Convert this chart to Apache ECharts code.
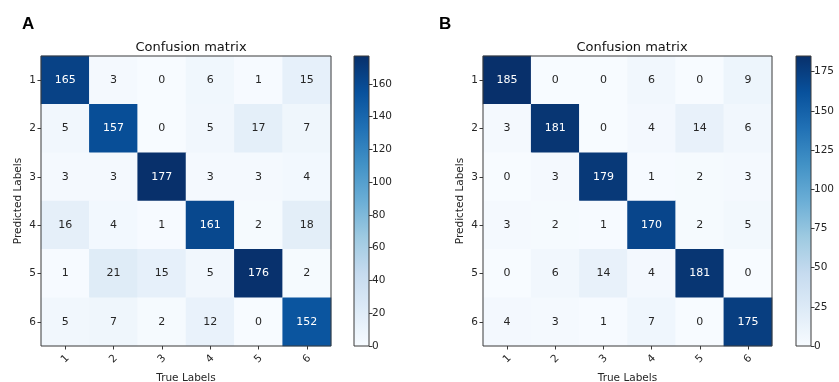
<!DOCTYPE html>
<html>
<head>
<meta charset="utf-8">
<script src="https://cdn.jsdelivr.net/npm/echarts@6/dist/echarts.min.js"></script>
<style>
html,body{margin:0;padding:0;background:#fff;}
#c{width:839px;height:382px;}
</style>
</head>
<body>
<div id="c"></div>
<script>
// ---- data ----
const categories = ['1', '2', '3', '4', '5', '6'];
// rows = Predicted Labels, columns = True Labels
const matrixA = [
  [165, 3, 0, 6, 1, 15],
  [5, 157, 0, 5, 17, 7],
  [3, 3, 177, 3, 3, 4],
  [16, 4, 1, 161, 2, 18],
  [1, 21, 15, 5, 176, 2],
  [5, 7, 2, 12, 0, 152]
];
const matrixB = [
  [185, 0, 0, 6, 0, 9],
  [3, 181, 0, 4, 14, 6],
  [0, 3, 179, 1, 2, 3],
  [3, 2, 1, 170, 2, 5],
  [0, 6, 14, 4, 181, 0],
  [4, 3, 1, 7, 0, 175]
];
const colorbarTicksA = [0, 20, 40, 60, 80, 100, 120, 140, 160];
const colorbarTicksB = [0, 25, 50, 75, 100, 125, 150, 175];
const panelLetters = ['A', 'B'];
const titleText = 'Confusion matrix';
const xName = 'True Labels';
const yName = 'Predicted Labels';

// ---- styling ----
const BLUES = ['#f7fbff', '#deebf7', '#c6dbef', '#9ecae1', '#6baed6', '#4292c6', '#2171b5', '#08519c', '#08306b'];
const FONT = 'DejaVu Sans';
const AXC = '#3a3a3a';
const TXT = '#262626';

function maxOf(m) { return Math.max.apply(null, m.map(r => Math.max.apply(null, r))); }
const maxA = maxOf(matrixA), maxB = maxOf(matrixB);

function cells(m, mx) {
  const out = [];
  m.forEach((row, i) => row.forEach((v, j) => {
    out.push({ value: [j, i, v], label: { color: v > mx / 2 ? '#ffffff' : TXT } });
  }));
  return out;
}

const gridsPos = [
  { left: 41, top: 56, width: 290, height: 290 },   // heatmap A
  { left: 354, top: 56, width: 15, height: 290 },   // colorbar A
  { left: 483, top: 56, width: 289, height: 290 },  // heatmap B
  { left: 796, top: 56, width: 15, height: 290 }    // colorbar B
];

const xAxes = [], yAxes = [], series = [];
function heatAxes(g) {
  xAxes.push({
    type: 'category', data: categories, gridIndex: g, position: 'bottom', z: 5,
    name: xName, nameLocation: 'middle', nameGap: 25,
    nameTextStyle: { fontFamily: FONT, fontSize: 10.5, color: TXT },
    axisLine: { show: false },
    axisTick: { show: true, alignWithLabel: true, length: 3.5, lineStyle: { color: AXC } },
    axisLabel: { rotate: 45, align: 'center', verticalAlign: 'middle', fontFamily: FONT, fontSize: 10.5, color: TXT, margin: 13 },
    splitLine: { show: false }, splitArea: { show: false }
  });
  yAxes.push({
    type: 'category', data: categories, gridIndex: g, position: 'left', inverse: true, z: 5,
    name: yName, nameLocation: 'middle', nameGap: 17, nameRotate: 90,
    nameTextStyle: { fontFamily: FONT, fontSize: 10.5, color: TXT },
    axisLine: { show: false },
    axisTick: { show: true, alignWithLabel: true, length: 3.5, lineStyle: { color: AXC } },
    axisLabel: { fontFamily: FONT, fontSize: 10.5, color: TXT, margin: 5 },
    splitLine: { show: false }, splitArea: { show: false }
  });
}
function cbAxes(g, mx, ticks) {
  xAxes.push({
    type: 'category', data: ['cb'], gridIndex: g, show: false
  });
  yAxes.push({
    type: 'value', gridIndex: g, position: 'right', min: 0, max: mx, z: 5,
    axisLine: { show: false },
    axisTick: { show: true, length: 3.5, lineStyle: { color: AXC }, customValues: ticks },
    axisLabel: { fontFamily: FONT, fontSize: 10.5, color: TXT, margin: 3, customValues: ticks },
    splitLine: { show: false }
  });
}

heatAxes(0);
cbAxes(1, maxA, colorbarTicksA);
heatAxes(2);
cbAxes(3, maxB, colorbarTicksB);

function gradient() {
  const stops = BLUES.map((c, i) => ({ offset: 1 - i / (BLUES.length - 1), color: c }));
  stops.sort((a, b) => a.offset - b.offset);
  return new echarts.graphic.LinearGradient(0, 0, 0, 1, stops);
}

series.push({
  type: 'heatmap', xAxisIndex: 0, yAxisIndex: 0, data: cells(matrixA, maxA),
  label: { show: true, fontFamily: FONT, fontSize: 11 },
  emphasis: { disabled: true }
});
series.push({
  type: 'bar', xAxisIndex: 1, yAxisIndex: 1, data: [maxA], barWidth: '100%',
  itemStyle: { color: gradient() },
  emphasis: { disabled: true }, silent: true
});
series.push({
  type: 'heatmap', xAxisIndex: 2, yAxisIndex: 2, data: cells(matrixB, maxB),
  label: { show: true, fontFamily: FONT, fontSize: 11 },
  emphasis: { disabled: true }
});
series.push({
  type: 'bar', xAxisIndex: 3, yAxisIndex: 3, data: [maxB], barWidth: '100%',
  itemStyle: { color: gradient() },
  emphasis: { disabled: true }, silent: true
});

const option = {
  animation: false,
  backgroundColor: '#ffffff',
  title: [
    { text: panelLetters[0], left: 17, top: 11, textStyle: { fontFamily: 'Liberation Sans', fontWeight: 'bold', fontSize: 17, color: '#000' } },
    { text: panelLetters[1], left: 434, top: 11, textStyle: { fontFamily: 'Liberation Sans', fontWeight: 'bold', fontSize: 17, color: '#000' } },
    { text: titleText, left: 186, top: 36, textAlign: 'center', textStyle: { fontFamily: FONT, fontWeight: 'normal', fontSize: 13, color: '#111' } },
    { text: titleText, left: 627, top: 36, textAlign: 'center', textStyle: { fontFamily: FONT, fontWeight: 'normal', fontSize: 13, color: '#111' } }
  ],
  grid: gridsPos.map(p => Object.assign({
    containLabel: false, outerBoundsMode: 'none', show: true, backgroundColor: 'transparent',
    borderColor: AXC, borderWidth: 1, z: 10
  }, p)),
  xAxis: xAxes,
  yAxis: yAxes,
  visualMap: [
    { show: false, seriesIndex: 0, dimension: 2, min: 0, max: maxA, inRange: { color: BLUES } },
    { show: false, seriesIndex: 2, dimension: 2, min: 0, max: maxB, inRange: { color: BLUES } }
  ],
  series: series
};

const chart = echarts.init(document.getElementById('c'), null, { renderer: 'canvas' });
chart.setOption(option);
</script>
</body>
</html>
